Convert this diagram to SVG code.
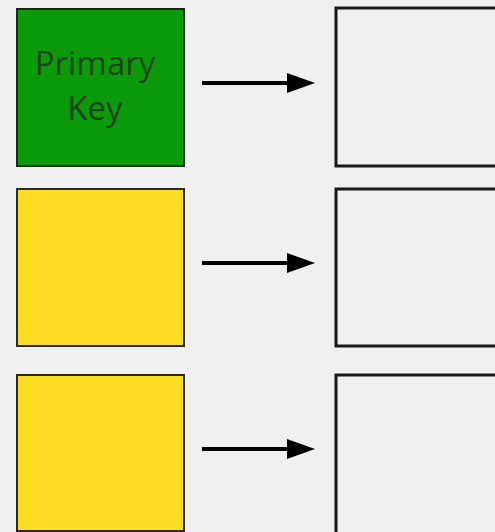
<svg xmlns="http://www.w3.org/2000/svg" width="495" height="532" viewBox="0 0 495 532">
<defs>
<style>
.key{fill:#0a9a0a;stroke:#1a2a1a;stroke-width:2}
.attr{fill:#fddc26;stroke:#2a2a20;stroke-width:2}
.val{fill:#f0f0f0;stroke:#1a1a1a;stroke-width:3}
.lbl{font-family:"Open Sans","Noto Sans",sans-serif;font-size:33px;fill:#1d451a;text-anchor:middle}
.conn{stroke:#000;stroke-width:4;fill:none}
.head{fill:#000}
</style>
</defs>
<rect width="495" height="532" fill="#f0f0f0"/>
<g id="node-pk">
<rect class="key" x="17" y="9" width="167" height="157"/>
<text class="lbl" x="95" y="75">Primary</text>
<text class="lbl" x="95" y="120">Key</text>
</g>
<g id="node-a1"><rect class="attr" x="17" y="189" width="167" height="157"/></g>
<g id="node-a2"><rect class="attr" x="17" y="375" width="167" height="156"/></g>
<g id="node-v1"><rect class="val" x="336" y="8" width="170" height="158"/></g>
<g id="node-v2"><rect class="val" x="336" y="189" width="170" height="157"/></g>
<g id="node-v3"><rect class="val" x="336" y="375" width="170" height="160"/></g>
<g id="connectors">
<line class="conn" x1="202" y1="83" x2="290" y2="83"/>
<polygon class="head" points="287,73 315,83 287,93"/>
<line class="conn" x1="202" y1="263" x2="290" y2="263"/>
<polygon class="head" points="287,253 315,263 287,273"/>
<line class="conn" x1="202" y1="449" x2="290" y2="449"/>
<polygon class="head" points="287,439 315,449 287,459"/>
</g>
</svg>
